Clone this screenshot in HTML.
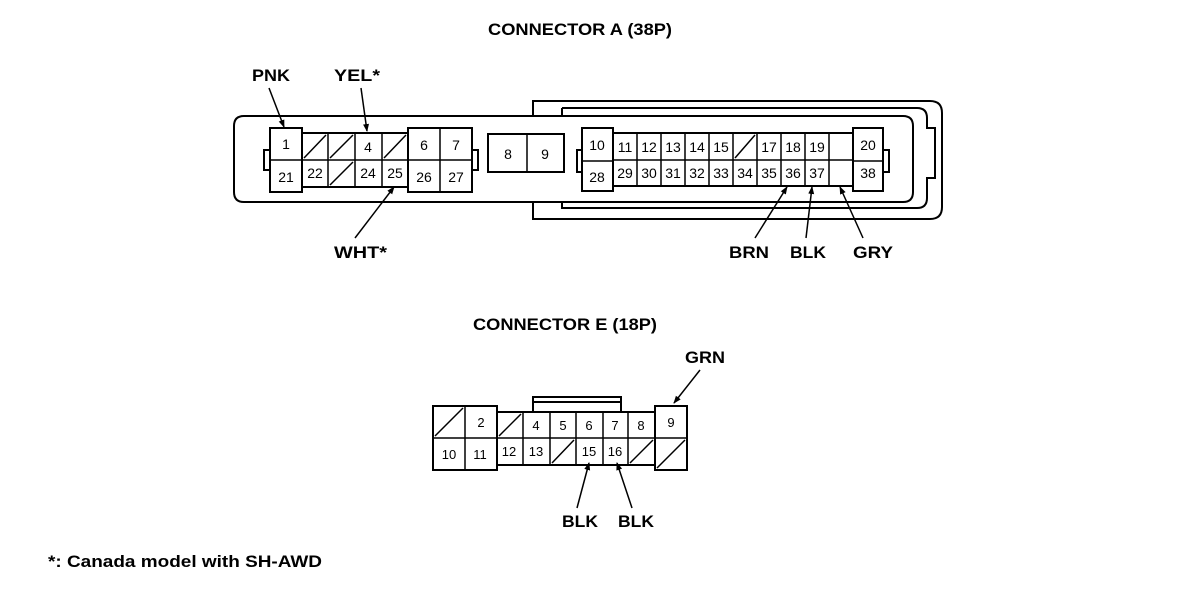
<!DOCTYPE html>
<html><head><meta charset="utf-8"><style>
html,body{margin:0;padding:0;background:#fff;}
svg{display:block;}
.t{font-family:"Liberation Sans",Arial,sans-serif;font-weight:bold;font-size:17px;fill:#000;}
.n{font-family:"Liberation Sans",Arial,sans-serif;font-size:14px;fill:#000;text-anchor:middle;}
</style></head><body>
<svg width="1184" height="590" viewBox="0 0 1184 590" xmlns="http://www.w3.org/2000/svg">
<defs><marker id="ah" markerWidth="8" markerHeight="8" refX="7" refY="4" orient="auto" markerUnits="userSpaceOnUse"><path d="M0,1 L8,4 L0,7 Z" fill="#000"/></marker></defs>
<g fill="none" stroke="#000" stroke-width="2">
<!-- shell contours -->
<path d="M533,219 L533,101 L930,101 Q942,101 942,113 L942,207 Q942,219 930,219 Z" fill="#fff"/>
<path d="M562,108 L917,108 Q927,108 927,118 L927,128 L935,128 L935,178 L927,178 L927,198 Q927,208 917,208 L562,208 L562,198" />
<path d="M562,108 L562,116"/>
<path d="M244,116 L903,116 Q913,116 913,126 L913,192 Q913,202 903,202 L244,202 Q234,202 234,192 L234,126 Q234,116 244,116 Z" fill="#fff"/>
</g>
<g fill="#fff" stroke="#000" stroke-width="2">
<!-- left block A -->
<rect x="264" y="150" width="6" height="20"/>
<rect x="472" y="150" width="6" height="20"/>
<rect x="302" y="133" width="106" height="54"/>
<rect x="270" y="128" width="32" height="64"/>
<rect x="408" y="128" width="64" height="64"/>
<rect x="488" y="134" width="76" height="38"/>
<!-- right block A -->
<rect x="577" y="150" width="6" height="22"/>
<rect x="883" y="150" width="6" height="22"/>
<rect x="613" y="133" width="240" height="53"/>
<rect x="582" y="128" width="31" height="63"/>
<rect x="853" y="128" width="30" height="63"/>
</g>
<g stroke="#000" stroke-width="1.5" fill="none">
<line x1="270" y1="160" x2="302" y2="160"/>
<line x1="302" y1="160" x2="408" y2="160"/>
<line x1="328" y1="133" x2="328" y2="187"/>
<line x1="355" y1="133" x2="355" y2="187"/>
<line x1="382" y1="133" x2="382" y2="187"/>
<line x1="408" y1="160" x2="472" y2="160"/>
<line x1="440" y1="128" x2="440" y2="192"/>
<line x1="527" y1="134" x2="527" y2="172"/>
<!-- diagonals -->
<line x1="304" y1="158" x2="326" y2="135"/>
<line x1="330" y1="158" x2="353" y2="135"/>
<line x1="330" y1="185" x2="353" y2="162"/>
<line x1="384" y1="158" x2="406" y2="135"/>
<line x1="582" y1="161" x2="613" y2="161"/>
<line x1="613" y1="160" x2="853" y2="160"/>
<line x1="853" y1="161" x2="883" y2="161"/>
<line x1="637" y1="133" x2="637" y2="186"/>
<line x1="661" y1="133" x2="661" y2="186"/>
<line x1="685" y1="133" x2="685" y2="186"/>
<line x1="709" y1="133" x2="709" y2="186"/>
<line x1="733" y1="133" x2="733" y2="186"/>
<line x1="757" y1="133" x2="757" y2="186"/>
<line x1="781" y1="133" x2="781" y2="186"/>
<line x1="805" y1="133" x2="805" y2="186"/>
<line x1="829" y1="133" x2="829" y2="186"/>
<line x1="735" y1="158" x2="755" y2="135"/>
</g>
<g class="n">
<text x="286" y="149">1</text><text x="286" y="182">21</text>
<text x="315" y="178">22</text><text x="368" y="152">4</text><text x="368" y="178">24</text><text x="395" y="178">25</text>
<text x="424" y="150">6</text><text x="456" y="150">7</text><text x="424" y="182">26</text><text x="456" y="182">27</text>
<text x="508" y="159">8</text><text x="545" y="159">9</text>
<text x="597" y="150">10</text><text x="597" y="182">28</text>
<text x="625" y="152">11</text><text x="649" y="152">12</text><text x="673" y="152">13</text><text x="697" y="152">14</text><text x="721" y="152">15</text><text x="769" y="152">17</text><text x="793" y="152">18</text><text x="817" y="152">19</text>
<text x="625" y="178">29</text><text x="649" y="178">30</text><text x="673" y="178">31</text><text x="697" y="178">32</text><text x="721" y="178">33</text><text x="745" y="178">34</text><text x="769" y="178">35</text><text x="793" y="178">36</text><text x="817" y="178">37</text>
<text x="868" y="150">20</text><text x="868" y="178">38</text>
</g>
<!-- leaders A -->
<g stroke="#000" stroke-width="1.5">
<line x1="269" y1="88" x2="284" y2="127" marker-end="url(#ah)"/>
<line x1="361" y1="88" x2="367" y2="131" marker-end="url(#ah)"/>
<line x1="355" y1="238" x2="394" y2="187" marker-end="url(#ah)"/>
<line x1="755" y1="238" x2="787" y2="187" marker-end="url(#ah)"/>
<line x1="806" y1="238" x2="812" y2="187" marker-end="url(#ah)"/>
<line x1="863" y1="238" x2="840" y2="187" marker-end="url(#ah)"/>
</g>
<g class="t">
<text x="488" y="35" textLength="184" lengthAdjust="spacingAndGlyphs">CONNECTOR A (38P)</text>
<text x="252" y="81" textLength="38" lengthAdjust="spacingAndGlyphs">PNK</text>
<text x="334" y="81" textLength="46" lengthAdjust="spacingAndGlyphs">YEL*</text>
<text x="334" y="258" textLength="53" lengthAdjust="spacingAndGlyphs">WHT*</text>
<text x="729" y="258" textLength="40" lengthAdjust="spacingAndGlyphs">BRN</text>
<text x="790" y="258" textLength="36" lengthAdjust="spacingAndGlyphs">BLK</text>
<text x="853" y="258" textLength="40" lengthAdjust="spacingAndGlyphs">GRY</text>
<text x="473" y="330" textLength="184" lengthAdjust="spacingAndGlyphs">CONNECTOR E (18P)</text>
<text x="685" y="363" textLength="40" lengthAdjust="spacingAndGlyphs">GRN</text>
<text x="562" y="527" textLength="36" lengthAdjust="spacingAndGlyphs">BLK</text>
<text x="618" y="527" textLength="36" lengthAdjust="spacingAndGlyphs">BLK</text>
<text x="48" y="567" textLength="274" lengthAdjust="spacingAndGlyphs">*: Canada model with SH-AWD</text>
</g>
<!-- Connector E -->
<g fill="#fff" stroke="#000" stroke-width="2">
<path d="M533,412 L533,397 L621,397 L621,412"/>
<line x1="533" y1="402" x2="621" y2="402"/>
<rect x="497" y="412" width="158" height="53"/>
<rect x="433" y="406" width="64" height="64"/>
<rect x="655" y="406" width="32" height="64"/>
</g>
<g stroke="#000" stroke-width="1.5" fill="none">
<line x1="433" y1="438" x2="687" y2="438"/>
<line x1="465" y1="406" x2="465" y2="470"/>
<line x1="523" y1="412" x2="523" y2="465"/>
<line x1="550" y1="412" x2="550" y2="465"/>
<line x1="576" y1="412" x2="576" y2="465"/>
<line x1="603" y1="412" x2="603" y2="465"/>
<line x1="628" y1="412" x2="628" y2="465"/>
<line x1="435" y1="436" x2="463" y2="408"/>
<line x1="499" y1="436" x2="521" y2="414"/>
<line x1="552" y1="463" x2="574" y2="440"/>
<line x1="630" y1="463" x2="653" y2="440"/>
<line x1="657" y1="468" x2="685" y2="440"/>
</g>
<g class="n" style="font-size:13px">
<text x="481" y="427">2</text><text x="449" y="459">10</text><text x="480" y="459">11</text>
<text x="536" y="430">4</text><text x="563" y="430">5</text><text x="589" y="430">6</text><text x="615" y="430">7</text><text x="641" y="430">8</text><text x="671" y="427">9</text>
<text x="509" y="456">12</text><text x="536" y="456">13</text><text x="589" y="456">15</text><text x="615" y="456">16</text>
</g>
<g stroke="#000" stroke-width="1.5">
<line x1="700" y1="370" x2="674" y2="403" marker-end="url(#ah)"/>
<line x1="577" y1="508" x2="589" y2="463" marker-end="url(#ah)"/>
<line x1="632" y1="508" x2="617" y2="463" marker-end="url(#ah)"/>
</g>
</svg>
</body></html>
